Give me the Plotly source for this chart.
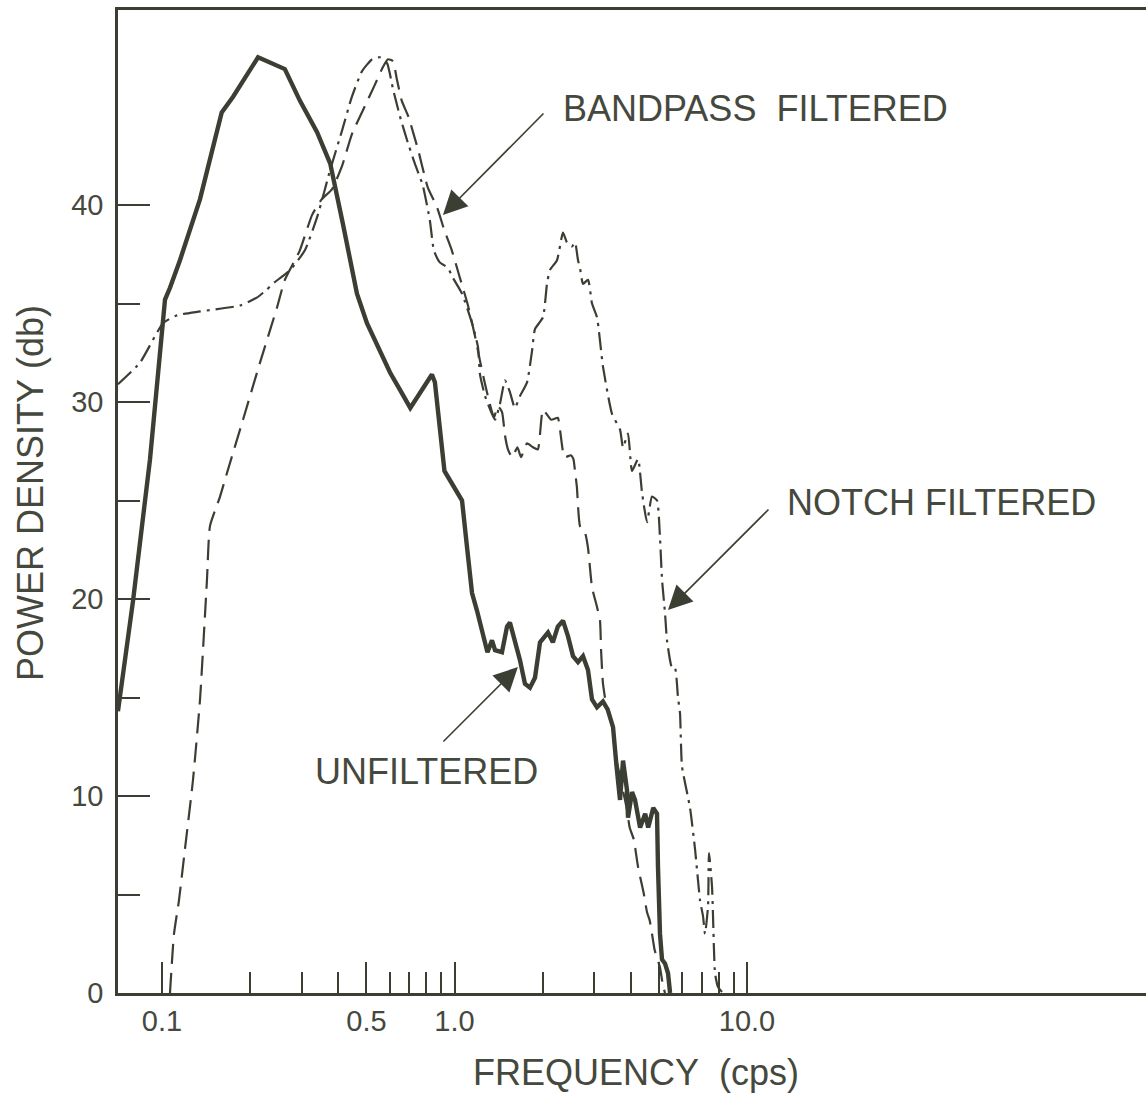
import plotly.graph_objects as go

# Power density spectra (db) against frequency (cps)
unf_freq = [0.0707, 0.0796, 0.0910, 0.1024, 0.1065, 0.1152, 0.1349, 0.160, 0.175, 0.213,
            0.263, 0.296, 0.339, 0.376, 0.416, 0.464, 0.502, 0.556, 0.602, 0.652,
            0.706, 0.837, 0.857, 0.924, 1.061, 1.106, 1.148, 1.194, 1.252, 1.296,
            1.343, 1.376, 1.453, 1.512, 1.547, 1.609, 1.674, 1.741, 1.811, 1.884,
            1.96, 2.087, 2.169, 2.255, 2.349, 2.444, 2.542, 2.644, 2.75, 2.86,
            2.952, 3.07, 3.218, 3.338, 3.483, 3.581, 3.68, 3.768, 3.888, 3.919,
            4.045, 4.141, 4.31, 4.486, 4.594, 4.781, 4.924, 4.962, 5.041, 5.121,
            5.243, 5.37, 5.457]
unf_db = [14.3, 19.9, 27.1, 35.2, 35.8, 37.2, 40.3, 44.7, 45.5, 47.5,
          46.9, 45.3, 43.7, 42.1, 39.0, 35.5, 34.0, 32.6, 31.5, 30.6,
          29.7, 31.4, 31.0, 26.5, 25.0, 22.5, 20.3, 19.4, 18.3, 17.3,
          17.9, 17.4, 17.3, 18.6, 18.8, 17.9, 16.9, 15.7, 15.5, 16.0,
          17.8, 18.3, 17.8, 18.6, 18.9, 18.1, 17.1, 16.8, 17.1, 16.4,
          14.9, 14.5, 14.8, 14.4, 13.5, 11.5, 9.8, 11.8, 10.3, 8.9,
          10.2, 9.8, 8.4, 9.1, 8.4, 9.4, 9.1, 6.4, 3.0, 1.7,
          1.5, 1.0, 0.0]

bp_freq = [0.1065, 0.1099, 0.1143, 0.1198, 0.1276, 0.1349, 0.1425, 0.1459, 0.1579, 0.1668,
           0.1892, 0.2163, 0.2473, 0.263, 0.296, 0.326, 0.352, 0.381, 0.413, 0.446,
           0.486, 0.534, 0.569, 0.592, 0.616, 0.635, 0.66, 0.695, 0.751, 0.81,
           0.871, 0.924, 0.979, 1.039, 1.112, 1.173, 1.222, 1.272, 1.326, 1.365,
           1.404, 1.453, 1.488, 1.523, 1.574, 1.641, 1.688, 1.77, 1.855, 1.927,
           2.007, 2.14, 2.255, 2.29, 2.378, 2.5, 2.55, 2.582, 2.62, 2.686,
           2.79, 2.86, 2.952, 3.07, 3.144, 3.17, 3.218, 3.314, 3.455, 3.53,
           3.888, 3.97, 4.10, 4.241, 4.43, 4.552, 4.646, 4.734, 4.83, 5.041,
           5.143, 5.243]
bp_db = [0.0, 3.0, 4.7, 7.3, 10.8, 14.9, 21.0, 23.7, 25.2, 26.4,
         29.1, 32.0, 34.8, 36.2, 37.7, 39.5, 40.3, 40.8, 42.0, 43.6,
         44.8, 46.1, 47.0, 47.4, 47.3, 46.4, 45.3, 44.5, 42.8, 40.9,
         39.9, 38.7, 37.7, 36.4, 34.9, 33.4, 32.1, 30.9, 29.8, 29.2,
         29.8, 29.5, 28.3, 27.6, 27.2, 27.7, 27.2, 27.9, 27.7, 27.6,
         29.6, 29.1, 29.2, 28.7, 27.2, 27.3, 27.1, 26.5, 25.7, 23.7,
         23.4, 22.6, 20.6, 19.6, 18.9, 17.4, 15.7, 14.5, 13.7, 12.3,
         9.3, 8.4, 7.8, 6.4, 5.1, 4.1, 3.7, 3.0, 2.2, 1.3,
         0.5, 0.0]

notch_freq = [0.0707, 0.0841, 0.1008, 0.1125, 0.1349, 0.185, 0.211, 0.228, 0.239, 0.274,
              0.308, 0.341, 0.376, 0.413, 0.446, 0.483, 0.523, 0.556, 0.588, 0.616,
              0.651, 0.688, 0.732, 0.779, 0.824, 0.85, 0.889, 0.95, 0.988, 1.061,
              1.148, 1.203, 1.222, 1.272, 1.343, 1.376, 1.43, 1.488, 1.547, 1.609,
              1.674, 1.77, 1.841, 1.884, 2.007, 2.071, 2.12, 2.241, 2.349, 2.424,
              2.521, 2.582, 2.644, 2.686, 2.75, 2.86, 2.952, 3.07, 3.218, 3.455,
              3.68, 3.768, 3.919, 4.045, 4.241, 4.376, 4.552, 4.734, 4.924, 5.041,
              5.121, 5.243, 5.327, 5.541, 5.673, 5.808, 5.901, 5.995, 6.385, 6.642,
              6.909, 7.073, 7.185, 7.357, 7.415, 7.592, 7.652, 7.774, 7.96, 8.28]
notch_db = [30.9, 32.0, 34.0, 34.4, 34.6, 34.9, 35.3, 35.7, 36.0, 36.7,
            37.7, 39.5, 41.8, 43.8, 45.5, 46.8, 47.4, 47.5, 47.2, 45.9,
            44.5, 43.3, 42.1, 41.0, 39.2, 37.7, 37.1, 36.8, 36.3, 35.5,
            34.0, 32.8, 31.4, 30.3, 29.4, 29.1, 29.9, 31.1, 30.5, 29.7,
            30.3, 31.0, 32.6, 33.7, 34.3, 36.0, 36.7, 37.2, 38.6, 38.1,
            37.9, 38.1, 37.2, 36.8, 36.0, 36.2, 35.0, 34.3, 31.8, 29.4,
            28.6, 27.7, 28.4, 26.5, 27.1, 25.4, 23.9, 25.2, 25.0, 23.1,
            21.0, 19.3, 17.9, 16.5, 16.5, 15.0, 14.2, 11.5, 9.4, 7.3,
            4.7, 3.9, 3.0, 4.4, 7.1, 5.4, 3.9, 1.0, 0.3, 0.0]

# Axis ticks
x_major = [0.1, 0.5, 1.0, 5.0, 10.0]
x_major_text = ["0.1", "0.5", "1.0", "", "10.0"]
x_minor = [0.2, 0.3, 0.4, 0.6, 0.7, 0.8, 0.9, 2, 3, 4, 6, 7, 8, 9]
y_major = [0, 10, 20, 30, 40]
y_minor = [5, 15, 25, 35]

INK = "#3b3e33"
TEXT = "#45483d"
FONT = "Liberation Sans"

fig = go.Figure()
fig.add_trace(go.Scatter(x=bp_freq, y=bp_db, mode="lines", name="BANDPASS FILTERED",
                         line=dict(color=INK, width=2.2, dash="20px,9px",
                                   shape="spline", smoothing=0.5)))
fig.add_trace(go.Scatter(x=notch_freq, y=notch_db, mode="lines", name="NOTCH FILTERED",
                         line=dict(color=INK, width=2.2, dash="18px,6px,3px,6px",
                                   shape="spline", smoothing=0.5)))
fig.add_trace(go.Scatter(x=unf_freq, y=unf_db, mode="lines", name="UNFILTERED",
                         line=dict(color=INK, width=4.4)))

fig.update_layout(
    width=1146, height=1095, autosize=False,
    margin=dict(l=118, r=0, t=10, b=102),
    paper_bgcolor="white", plot_bgcolor="white",
    showlegend=False,
    font=dict(family=FONT, color=TEXT),
    xaxis=dict(type="log", range=[-1.1504, 2.364],
               showgrid=False, zeroline=False,
               showline=True, linecolor=INK, linewidth=2.5, mirror=True,
               ticks="inside", ticklen=31, tickwidth=2, tickcolor=INK,
               tickmode="array", tickvals=x_major, ticktext=x_major_text,
               tickfont=dict(size=29, color=TEXT, family=FONT),
               minor=dict(tickmode="array", tickvals=x_minor, ticks="inside",
                          ticklen=21, tickwidth=2, tickcolor=INK, showgrid=False)),
    yaxis=dict(range=[0, 49.9],
               showgrid=False, zeroline=False,
               showline=True, linecolor=INK, linewidth=2.5,
               ticks="inside", ticklen=32, tickwidth=2, tickcolor=INK,
               tickmode="array", tickvals=y_major,
               tickfont=dict(size=29, color=TEXT, family=FONT),
               ticklabelstandoff=6,
               minor=dict(tickmode="array", tickvals=y_minor, ticks="inside",
                          ticklen=22, tickwidth=2, tickcolor=INK, showgrid=False)),
)

label_font = dict(family=FONT, size=36, color=TEXT)
nb = "\u00a0"

# Axis titles
fig.add_annotation(xref="paper", yref="paper", x=-0.0856, y=0.5086,
                   text=f"POWER DENSITY{nb}(db)", textangle=-90, showarrow=False,
                   font=label_font, xanchor="center", yanchor="middle")
fig.add_annotation(xref="paper", yref="paper", x=0.504, y=-0.0804,
                   text=f"FREQUENCY{nb}{nb}(cps)", showarrow=False,
                   font=label_font, xanchor="center", yanchor="middle")

# Curve labels
fig.add_annotation(xref="paper", yref="paper", x=0.6206, y=0.9003,
                   text=f"BANDPASS{nb}{nb}FILTERED", showarrow=False,
                   font=label_font, xanchor="center", yanchor="middle")
fig.add_annotation(xref="paper", yref="paper", x=0.801, y=0.4985,
                   text=f"NOTCH{nb}FILTERED", showarrow=False,
                   font=label_font, xanchor="center", yanchor="middle")
fig.add_annotation(xref="paper", yref="paper", x=0.300, y=0.2258,
                   text="UNFILTERED", showarrow=False,
                   font=label_font, xanchor="center", yanchor="middle")

# Pointer arrows
arrow = dict(showarrow=True, arrowhead=2, arrowsize=3.0, arrowwidth=1.6,
             arrowcolor=INK, text="", xref="paper", yref="paper",
             axref="pixel", ayref="pixel", standoff=0, startstandoff=0)
fig.add_annotation(x=0.3161, y=0.7915, ax=102, ay=-103, **arrow)
fig.add_annotation(x=0.535, y=0.3896, ax=102, ay=-102, **arrow)
fig.add_annotation(x=0.389, y=0.3316, ax=-76, ay=76, **arrow)

fig.write_html("out.html")
